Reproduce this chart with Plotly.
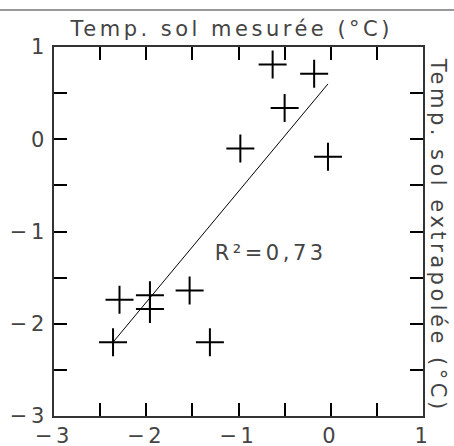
import plotly.graph_objects as go

temp_mesuree = [-0.63, -0.18, -0.50, -0.98, -0.03, -2.29, -1.96, -1.96, -1.53, -2.36, -1.31]
temp_extrapolee = [0.81, 0.71, 0.34, -0.10, -0.19, -1.74, -1.69, -1.84, -1.64, -2.20, -2.20]

# regression line end points
fit_x = [-2.36, -0.03]
fit_y = [-2.20, 0.60]

tick_vals = [-3, -2.5, -2, -1.5, -1, -0.5, 0, 0.5, 1]
tick_text = ["−3", "", "−2", "", "−1", "", "0", "", "1"]

font_main = dict(family="DejaVu Sans", size=21, color="#444444")

fig = go.Figure()

fig.add_trace(go.Scatter(
    x=fit_x, y=fit_y, mode="lines",
    line=dict(color="black", width=1),
    showlegend=False, hoverinfo="skip"
))

fig.add_trace(go.Scatter(
    x=temp_mesuree, y=temp_extrapolee, mode="markers",
    marker=dict(symbol="cross-thin", size=20, line=dict(color="black", width=2)),
    showlegend=False
))

axis_common = dict(
    range=[-3, 1], tickmode="array", tickvals=tick_vals, ticktext=tick_text,
    ticks="inside", ticklen=13, tickwidth=1.5, tickcolor="black",
    showline=True, linecolor="#333333", linewidth=2, mirror="ticks",
    showgrid=False, zeroline=False, tickfont=font_main, automargin=False,
)

fig.update_xaxes(**axis_common, ticklabelstandoff=0)
fig.update_yaxes(**axis_common)

# R² label
fig.add_annotation(x=-1.23, y=-1.235, xref="x", yref="y", text="R²=0,73", xshift=8,
                   showarrow=False, xanchor="left", yanchor="middle", font=font_main)

# top title
fig.add_annotation(x=0.5, y=1, xref="paper", yref="paper", yshift=4, xshift=-8,
                   text="Temp. sol mesurée (°C)", showarrow=False,
                   xanchor="center", yanchor="bottom", font=font_main)

# right title, reading top to bottom
fig.add_annotation(x=1, y=0.5, xref="paper", yref="paper", xshift=1, yshift=-3,
                   text="Temp. sol extrapolée (°C)", showarrow=False, textangle=90,
                   xanchor="left", yanchor="middle", font=font_main)

# gray rule at the top of the page
fig.add_shape(type="line", xref="paper", yref="paper", x0=-0.2, x1=1.2, y0=1.1, y1=1.1,
              line=dict(color="#999999", width=2))

fig.update_layout(
    width=454, height=446,
    margin=dict(l=54, r=31, t=47, b=30, autoexpand=False),
    plot_bgcolor="white", paper_bgcolor="white",
)

# no page margin, and the wide letter spacing of the original lettering
post = (
    "document.body.style.margin='0';"
    "document.querySelectorAll('svg text').forEach(function(t){t.style.letterSpacing='3.5px';});"
)

fig.write_html("out.html", post_script=post, config={"displayModeBar": False})
